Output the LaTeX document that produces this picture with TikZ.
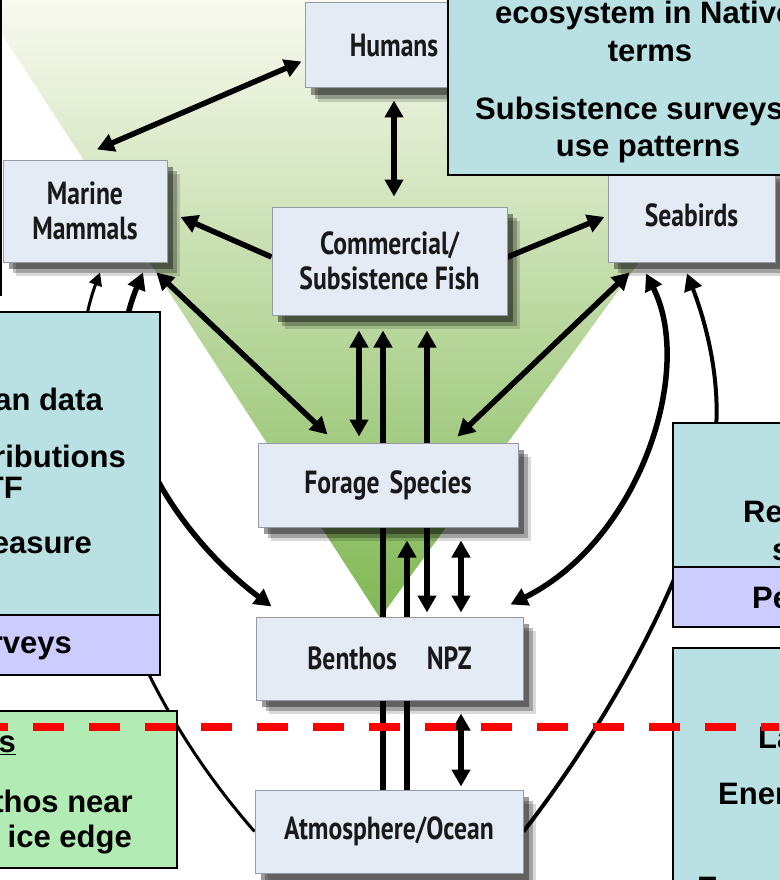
\documentclass[tikz,border=0pt]{standalone}
\usepackage{fontspec}
\setmainfont{Liberation Sans}
\newfontfamily\labfont[FakeStretch=0.8]{PT Sans}
\usetikzlibrary{arrows.meta}
\usetikzlibrary{shadows}
\definecolor{boxfill}{RGB}{229,235,245}
\definecolor{boxline}{RGB}{150,155,165}
\definecolor{infoteal}{RGB}{185,224,226}
\definecolor{infolav}{RGB}{204,204,255}
\definecolor{infogreen}{RGB}{178,236,180}
\definecolor{gtop}{RGB}{249,250,240}
\definecolor{gmid}{RGB}{192,219,152}
\definecolor{gbot}{RGB}{128,184,84}
\pgfdeclarelayer{back}
\pgfdeclarelayer{edges}
\pgfsetlayers{back,edges,main}
\tikzstyle{box}=[draw=boxline, fill=boxfill, line width=1pt, inner sep=0pt, align=center, text=black!90,
  font=\labfont\bfseries\fontsize{32}{35}\selectfont,
  drop shadow={shadow xshift=13pt, shadow yshift=-14pt, fill=black, opacity=.15},
  drop shadow={shadow xshift=10pt, shadow yshift=-11pt, fill=black, opacity=.25},
  drop shadow={shadow xshift=6pt, shadow yshift=-7pt, fill=black, opacity=.4}]
\tikzstyle{info}=[draw=black, line width=2pt, fill=infoteal]
\tikzstyle{infotext}=[font=\bfseries\fontsize{31}{37}\selectfont, inner sep=0pt]
\tikzstyle{arr}=[line width=5.5pt, -{Triangle[length=17pt,width=18pt]}]
\tikzstyle{dbl}=[line width=5.5pt, {Triangle[length=17pt,width=18pt]}-{Triangle[length=17pt,width=18pt]}]
\begin{document}
\begin{tikzpicture}[x=1pt,y=-1pt]
\useasboundingbox (0,0) rectangle (779,880);
\begin{pgfonlayer}{back}
\fill[white] (0,0) rectangle (779,880);
\shade[top color=gtop, middle color=gmid, bottom color=gbot] (-20,0) -- (830,0) -- (380,618) -- cycle;
\end{pgfonlayer}
\draw[line width=2pt] (1,-5) -- (1,296);
% food web boxes
\node[box, minimum width=178pt, minimum height=85pt] (humans) at (394,45.5) {Humans};
\node[box, minimum width=164pt, minimum height=102pt] (mammals) at (85,211) {Marine\\Mammals};
\node[box, minimum width=235pt, minimum height=108pt] (fish) at (389.5,261) {Commercial/\\Subsistence Fish};
\node[box, minimum width=167pt, minimum height=94pt] (birds) at (691.5,215) {Seabirds};
\node[box, minimum width=260pt, minimum height=84pt] (forage) at (388,485) {Forage\hspace{10pt}Species};
\node[box, minimum width=267pt, minimum height=83pt] (benthos) at (389.5,658.5) {Benthos\hspace{30pt}NPZ};
\node[box, minimum width=268pt, minimum height=83pt] (atmos) at (389,831.5) {Atmosphere/Ocean};
\begin{pgfonlayer}{edges}
\draw[dbl] ([shift={(12,-10)}]mammals.north) -- ([shift={(-3,16)}]humans.west);
\draw[dbl] ([shift={(0,12)}]humans.south) -- ([shift={(4.5,-10)}]fish.north);
\draw[arr] ([shift={(0,-4)}]fish.west) -- ([shift={(13,6)}]mammals.east);
\draw[arr] ([shift={(0,-4)}]fish.east) -- ([shift={(-3,2)}]birds.west);
\draw[dbl] ([shift={(-30.5,15)}]fish.south) -- ([shift={(-29,-6)}]forage.north);
\draw[arr] ([shift={(-6,0)}]atmos.north) -- ([shift={(-6.5,15)}]fish.south);
\draw[arr] ([shift={(18,0)}]atmos.north) -- ([shift={(19,13)}]forage.south);
\draw[dbl] ([shift={(37.5,15)}]fish.south) -- ([shift={(37.5,-4)}]benthos.north);
\draw[dbl] ([shift={(73,13)}]forage.south) -- ([shift={(71.5,-4)}]benthos.north);
\draw[dbl] ([shift={(71.5,13)}]benthos.south) -- ([shift={(72,-3)}]atmos.north);
\draw[dbl] ([shift={(-11,10)}]mammals.south east) -- ([shift={(70,-8)}]forage.north west);
\draw[dbl] ([shift={(22,10)}]birds.south west) -- ([shift={(-61,-6)}]forage.north east);
\draw[line width=3pt, -{Triangle[length=13pt,width=13pt]}] (atmos.west) .. controls (70,620) and (60,380) .. ([shift={(15,10)}]mammals.south);
\draw[dbl] ([shift={(58,10)}]mammals.south) .. controls (90,400) and (170,530) .. ([shift={(16,-10)}]benthos.north west);
\draw[dbl] ([shift={(-45.5,11)}]birds.south) .. controls (695,370) and (640,540) .. ([shift={(-13,-12)}]benthos.north east);
\draw[arr, line width=4pt] (atmos.east) .. controls (610,720) and (700,560) .. (715,440) .. controls (722,380) and (705,320) .. ([shift={(-4.5,11)}]birds.south);
\end{pgfonlayer}
% notes
\draw[info] (448,-40) rectangle (860,175);
\node[infotext, anchor=base west] (tr1) at (495,24) {ecosystem in Native};
\node[infotext, anchor=base] (tr2) at (650,62) {terms};
\node[infotext, anchor=base west] (tr3) at (475,120) {Subsistence surveys};
\node[infotext, anchor=base] (tr4) at (648,156) {use patterns};
\draw[info] (-200,312) rectangle (160,615);
\draw[info, fill=infolav] (-200,615) rectangle (160,675);
\node[infotext, anchor=base east] (lt1) at (103,410) {an data};
\node[infotext, anchor=base east] (lt2) at (126,467) {ributions};
\node[infotext, anchor=base east] (lt3) at (23,498) {TF};
\node[infotext, anchor=base east] (lt4) at (92,553) {easure};
\node[infotext, anchor=base east] (lt5) at (72,653) {rveys};
\draw[info, fill=infogreen] (-200,711) rectangle (177,868);
\node[infotext, anchor=base east] (gb1) at (16,752) {\underline{s}};
\node[infotext, anchor=base east] (gb2) at (133,812) {thos near};
\node[infotext, anchor=base east] (gb3) at (132,847) {ice edge};
\draw[info] (673,423) rectangle (1000,567);
\draw[info, fill=infolav] (673,567) rectangle (1000,627);
\node[infotext, anchor=base west] (rt1) at (743,522) {Re};
\node[infotext, anchor=base west] (rt2) at (772,560) {s};
\node[infotext, anchor=base west] (rt3) at (752,608) {Pe};
\draw[info] (673,648) rectangle (1000,1000);
\node[infotext, anchor=base west] (rb1) at (758,748) {La};
\node[infotext, anchor=base west] (rb2) at (718,804) {Ener};
\node[infotext, anchor=base west] (rb3) at (697,898) {E};
% ice edge
\draw[red, line width=8pt, dash pattern=on 31pt off 25pt, dash phase=23pt] (0,727) -- (779,727);
\end{tikzpicture}
\end{document}
